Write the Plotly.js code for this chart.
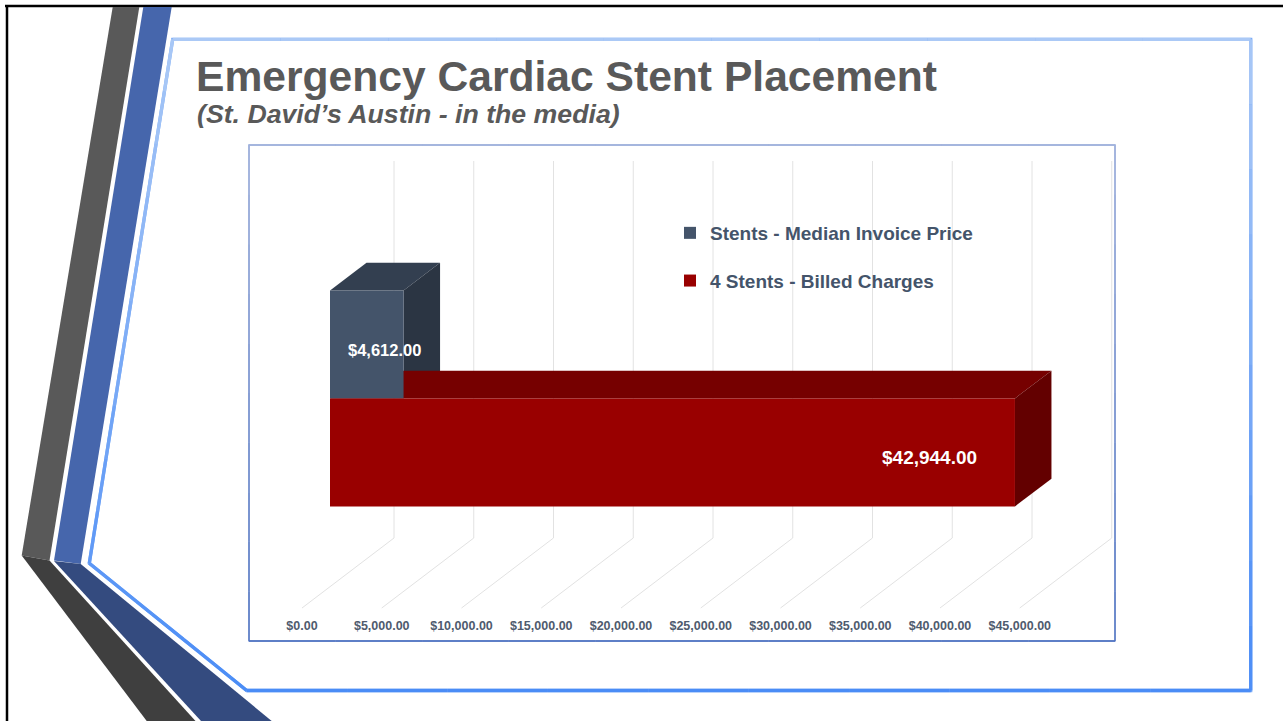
<!DOCTYPE html>
<html><head><meta charset="utf-8">
<script src="https://cdn.plot.ly/plotly-3.0.1.min.js"></script>
<style>html,body{margin:0;padding:0;background:#fff;overflow:hidden}#chart{width:1283px;height:721px}</style>
</head><body><div id="chart"></div>
<script>
// ---------------- data ----------------
const seriesNames = ['Stents - Median Invoice Price', '4 Stents - Billed Charges'];
const seriesValues = [4612, 42944];
const valueLabels = ['$4,612.00', '$42,944.00'];
const tickValues = [0, 5000, 10000, 15000, 20000, 25000, 30000, 35000, 40000, 45000];
const tickLabels = ['$0.00', '$5,000.00', '$10,000.00', '$15,000.00', '$20,000.00', '$25,000.00', '$30,000.00', '$35,000.00', '$40,000.00', '$45,000.00'];
const chartTitle = 'Emergency Cardiac Stent Placement';
const chartSubtitle = '(St. David’s Austin - in the media)';

// ---------------- styles / geometry ----------------
const W = 1283, H = 721;
const FONT = 'Liberation Sans, Arial, Helvetica, sans-serif';
const frontColors = ['#44546A', '#990000'];
const topColors = ['#333F50', '#760000'];
const sideColors = ['#2B3543', '#630000'];
const labelSizes = [16.5, 19];
const labelShifts = [[19, -6], [-36, -5]];

const K = 0.01595;          // px per dollar
const X0 = 330;             // px of $0 on bar front plane
const SLOT = 108;           // px per category slot
const Y0 = 452.4;           // px centre of lowest slot
const DEPTH_DX = 36.5, DEPTH_DY = 27.7;
const xRange = [-X0 / K, (W - X0) / K];
const yRange = [(Y0 - H) / SLOT, Y0 / SLOT];
const dX = DEPTH_DX / K, dY = DEPTH_DY / SLOT;
const wallDX = 64 / K, floorDX = -28 / K;
const wallTop = (Y0 - 161) / SLOT, wallBot = (Y0 - 538) / SLOT, floorY = (Y0 - 608) / SLOT;
const n = seriesValues.length;
const pos = seriesValues.map((v, i) => n - 1 - i);

// ---------------- traces ----------------
const traces = [];
seriesValues.forEach((v, i) => {
  const c = pos[i];
  traces.push({type: 'scatter', mode: 'none', fill: 'toself', fillcolor: topColors[i],
    x: [0, v, v + dX, dX, 0], y: [c + .5, c + .5, c + .5 + dY, c + .5 + dY, c + .5],
    hoverinfo: 'skip', showlegend: false, xaxis: 'x', yaxis: 'y'});
  traces.push({type: 'scatter', mode: 'none', fill: 'toself', fillcolor: sideColors[i],
    x: [v, v + dX, v + dX, v, v], y: [c - .5, c - .5 + dY, c + .5 + dY, c + .5, c - .5],
    hoverinfo: 'skip', showlegend: false, xaxis: 'x', yaxis: 'y'});
});
seriesValues.forEach((v, i) => {
  traces.push({type: 'bar', orientation: 'h', name: seriesNames[i], x: [v], y: [pos[i]], width: [1],
    marker: {color: frontColors[i], line: {width: 0}}, xaxis: 'x2', yaxis: 'y2',
    legendgroup: 'g' + i, hoverinfo: 'skip'});
});

// ---------------- shapes ----------------
const shapes = [];
const pp = (x, y) => `${x / W},${1 - y / H}`;
function paperPath(pts, close) {
  return 'M' + pts.map(p => pp(p[0], p[1])).join(' L') + (close ? ' Z' : '');
}
function hex2rgb(h) { return [1, 3, 5].map(k => parseInt(h.substr(k, 2), 16)); }
function lerpCol(a, b, t) {
  const A = hex2rgb(a), B = hex2rgb(b);
  return 'rgb(' + A.map((v, k) => Math.round(v + (B[k] - v) * t)).join(',') + ')';
}
function gradPoly(pts, c0, c1, y0, y1, width) {
  shapes.push({type: 'path', xref: 'paper', yref: 'paper', path: paperPath(pts, true),
    line: {color: lerpCol(c0, c1, .5), width: width}, layer: 'above'});
  for (let e = 0; e < pts.length; e++) {
    const a = pts[e], b = pts[(e + 1) % pts.length];
    const N = 10;
    for (let s = 0; s < N; s++) {
      const t0 = s / N, t1 = (s + 1) / N;
      const p0 = [a[0] + (b[0] - a[0]) * t0, a[1] + (b[1] - a[1]) * t0];
      const p1 = [a[0] + (b[0] - a[0]) * t1, a[1] + (b[1] - a[1]) * t1];
      const my = (p0[1] + p1[1]) / 2;
      const t = Math.max(0, Math.min(1, (my - y0) / (y1 - y0)));
      shapes.push({type: 'path', xref: 'paper', yref: 'paper', path: paperPath([p0, p1], false),
        line: {color: lerpCol(c0, c1, t), width: width}, layer: 'above'});
    }
  }
}
// slide border
shapes.push({type: 'line', xref: 'paper', yref: 'paper', x0: 5 / W, x1: 1, y0: 1 - 6 / H, y1: 1 - 6 / H, line: {color: '#000', width: 2.5}});
shapes.push({type: 'line', xref: 'paper', yref: 'paper', x0: 7 / W, x1: 7 / W, y0: 1 - 5 / H, y1: 0, line: {color: '#000', width: 2.5}});
// decorative bands
const band = (pts, col) => shapes.push({type: 'path', xref: 'paper', yref: 'paper', path: paperPath(pts, true), fillcolor: col, line: {width: 0}});
band([[112.7, 7], [139.3, 7], [49.5, 560.5], [21.7, 555.5]], '#595959');
band([[143.3, 7], [171.7, 7], [80.7, 564], [54, 560.5]], '#4666AC');
band([[21.7, 555.5], [49.5, 560.5], [195.5, 721], [146.7, 721]], '#3F3F3F');
band([[54, 561], [80.7, 564], [271.7, 721], [201, 721]], '#344B7F');
// light blue frame
gradPoly([[172.7, 39.3], [1250.7, 39.3], [1250.7, 690.5], [246.7, 690.5], [89.3, 563.3]], '#ABC9F6', '#4A8CF6', 40, 690, 3.3);
// chart box
gradPoly([[249, 145], [1115, 145], [1115, 641], [249, 641]], '#A9B8DF', '#4A6FC0', 145, 641, 1.3);
// gridlines (3D wall + floor)
tickValues.forEach(v => shapes.push({type: 'path', xref: 'x', yref: 'y', layer: 'below',
  path: `M${v + wallDX},${wallTop} L${v + wallDX},${wallBot} L${v + floorDX},${floorY}`,
  line: {color: '#E2E2E2', width: 1}}));

// ---------------- annotations ----------------
const annotations = [{
  xref: 'paper', yref: 'paper', x: 195 / W, y: 1 - 114 / H, xanchor: 'left', yanchor: 'middle',
  text: chartSubtitle, showarrow: false,
  font: {family: FONT, size: 26.7, color: '#595959', weight: 'bold', style: 'italic'}
}];
seriesValues.forEach((v, i) => annotations.push({
  xref: 'x2', yref: 'y2', x: v, y: pos[i], xanchor: 'right', yanchor: 'middle',
  xshift: labelShifts[i][0], yshift: labelShifts[i][1], text: valueLabels[i], showarrow: false,
  font: {family: FONT, size: labelSizes[i], color: '#FFFFFF', weight: 'bold'}
}));

const layout = {
  width: W, height: H, margin: {l: 0, r: 0, t: 0, b: 0, pad: 0},
  paper_bgcolor: '#FFFFFF', plot_bgcolor: 'rgba(0,0,0,0)',
  barmode: 'overlay', showlegend: true,
  title: {text: chartTitle, x: 196 / W, xanchor: 'left', y: 1 - 76 / H, yanchor: 'middle',
    font: {family: FONT, size: 42.6, color: '#595959', weight: 'bold'}},
  xaxis: {range: xRange, domain: [0, 1], anchor: 'free', position: (H - 616) / H,
    tickmode: 'array', tickvals: tickValues, ticktext: tickLabels, ticks: '',
    showgrid: false, zeroline: false, showline: false, ticklabelshift: -28,
    tickfont: {family: FONT, size: 12.5, color: '#4F5B6E', weight: 'bold'}, fixedrange: true},
  yaxis: {range: yRange, domain: [0, 1], visible: false, fixedrange: true},
  xaxis2: {range: xRange, overlaying: 'x', anchor: 'y2', visible: false, fixedrange: true},
  yaxis2: {range: yRange, overlaying: 'y', anchor: 'x2', visible: false, fixedrange: true},
  legend: {x: 670 / W, xanchor: 'left', y: 1 - 214 / H, yanchor: 'top',
    font: {family: FONT, size: 19, color: '#44546A', weight: 'bold'},
    bgcolor: 'rgba(0,0,0,0)', traceorder: 'grouped', tracegroupgap: 20,
    itemclick: false, itemdoubleclick: false},
  shapes: shapes, annotations: annotations
};
Plotly.newPlot('chart', traces, layout, {staticPlot: true, displayModeBar: false});
</script></body></html>
